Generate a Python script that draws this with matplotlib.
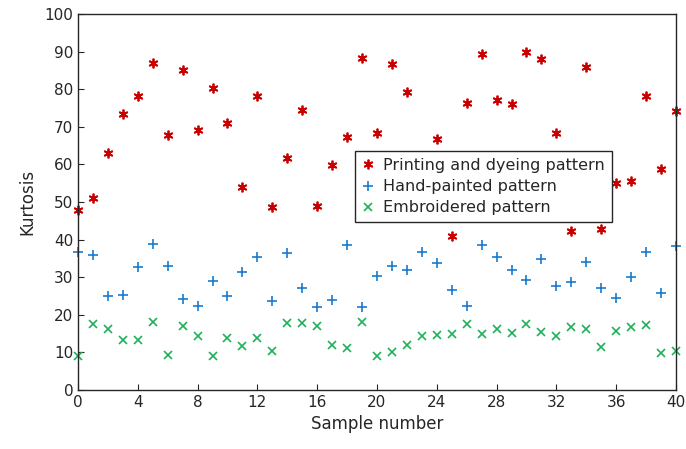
import matplotlib
matplotlib.use("Agg")
import matplotlib.pyplot as plt
import numpy as np

samples = np.arange(41)

# printing and dyeing (index 23 is hidden behind the legend)
printing = [48.0, 51.0, 63.0, 73.5, 78.3, 87.1, 67.9, 85.2, 69.2, 80.3,
            70.9, 54.1, 78.3, 48.8, 61.6, 74.5, 49.0, 59.8, 67.2, 88.2,
            68.4, 86.7, 79.2, 55.0, 66.8, 41.0, 76.4, 89.3, 77.0, 76.1,
            89.8, 88.0, 68.4, 42.4, 85.8, 42.8, 55.0, 55.7, 78.2, 58.7,
            74.3]
hand_painted = [36.6, 35.9, 25.1, 25.3, 32.8, 38.8, 33.1, 24.2, 22.3, 29.0,
                25.1, 31.3, 35.5, 23.8, 36.4, 27.2, 22.2, 23.9, 38.6, 22.2,
                30.4, 33.1, 32.0, 36.6, 33.7, 26.6, 22.4, 38.5, 35.3, 31.9,
                29.3, 34.8, 27.7, 28.8, 34.1, 27.0, 24.6, 30.0, 36.6, 25.7,
                38.3]
embroidered = [9.1, 17.5, 16.1, 13.3, 13.3, 18.0, 9.3, 17.0, 14.4, 9.0,
               13.9, 11.8, 13.7, 10.5, 17.9, 17.9, 17.0, 12.1, 11.3, 18.2,
               9.1, 10.2, 12.0, 14.4, 14.6, 14.9, 17.5, 14.8, 16.2, 15.2,
               17.5, 15.5, 14.4, 16.8, 16.1, 11.5, 15.7, 16.8, 17.3, 9.8,
               10.4]

labels = ["Printing and dyeing pattern", "Hand-painted pattern", "Embroidered pattern"]

plt.rcParams['font.family'] = ['DejaVu Sans']
fig = plt.figure(figsize=(6.86, 4.49), dpi=100)
ax = fig.add_axes([0.1137, 0.1314, 0.8717, 0.8374])

ax.plot(samples, printing, linestyle='none', marker=(6, 2, 0), markersize=7,
        markeredgewidth=1.3, color='#c80000', label=labels[0], clip_on=False)
ax.plot(samples, hand_painted, linestyle='none', marker='+', markersize=7,
        markeredgewidth=1.2, color='#1a7ad0', label=labels[1], clip_on=False)
ax.plot(samples, embroidered, linestyle='none', marker='x', markersize=6,
        markeredgewidth=1.2, color='#1fb15a', label=labels[2], clip_on=False)

ax.set_xlim(0, 40)
ax.set_ylim(0, 100)
ax.set_xticks(np.arange(0, 41, 4))
ax.set_yticks(np.arange(0, 101, 10))
ax.tick_params(direction='in', length=4, labelsize=11, colors='#262626',
               top=False, right=False)
for s in ax.spines.values():
    s.set_color('#262626')
    s.set_linewidth(1.0)

ax.set_xlabel("Sample number", fontsize=12, color='#262626', labelpad=4)
ax.set_ylabel("Kurtosis", fontsize=12, color='#262626', labelpad=6)

leg = ax.legend(loc='upper left', bbox_to_anchor=(0.463, 0.636), borderaxespad=0,
                fontsize=11.5, fancybox=False, framealpha=1, edgecolor='#262626',
                handlelength=0.7, handletextpad=0.6, labelspacing=0.38,
                borderpad=0.45)
leg.get_frame().set_linewidth(1.0)
for t in leg.get_texts():
    t.set_color('#262626')

fig.savefig("out.png", dpi=100)
